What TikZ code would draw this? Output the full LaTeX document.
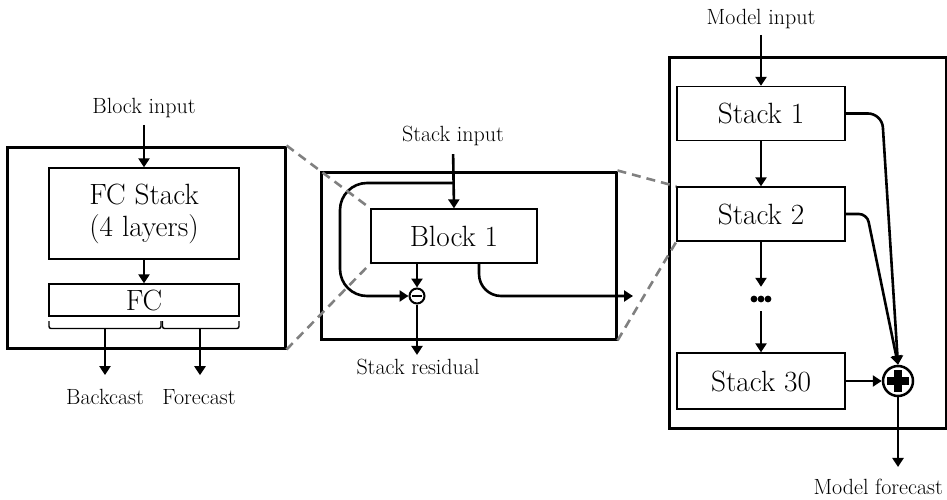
\documentclass[tikz,border=0pt]{standalone}
\usetikzlibrary{arrows.meta,calc}
\begin{document}
\begin{tikzpicture}[x=1pt,y=-1pt,
  frame/.style={draw, line width=3pt, inner sep=0pt},
  unit/.style={draw, line width=1.3pt, fill=white, inner sep=0pt,
    font=\fontsize{29.3}{32}\selectfont, align=center},
  lbl/.style={font=\fontsize{22}{26}\selectfont, inner sep=0pt},
  flow/.style={line width=2.6pt, -{Triangle[length=9pt,width=11pt]}},
  zoomline/.style={draw=black!50, line width=2.6pt, dash pattern=on 9pt off 6pt},
]
\useasboundingbox (0,0) rectangle (947,500);

% ---------- block internals (left) ----------
\node[frame, minimum width=278pt, minimum height=201pt] (blockframe) at (146,247.5) {};
\node[unit, minimum width=190pt, minimum height=91pt] (fcstack) at (144,213.5) {FC Stack\\(4 layers)};
\node[unit, minimum width=190pt, minimum height=32pt] (fc) at (144,300) {FC};
\node[lbl] (binput) at (144,108) {Block input};
\node[lbl] (backcast) at (105,397) {Backcast};
\node[lbl] (forecast) at (199,397) {Forecast};
\coordinate (bt1) at (105,329);
\coordinate (bt2) at (200,329);

% brackets splitting the FC output
\draw[line width=1.4pt, rounded corners=2pt] (49,321) |- (161,328.5) -- (161,321);
\draw[line width=1.4pt, rounded corners=2pt] (162.5,321) |- (239,328.5) -- (239,321);

\draw[flow, shorten <=7pt] (binput.south) -- (fcstack.north);
\draw[flow] (fcstack.south) -- (fc.north);
\draw[flow, shorten >=14pt] (bt1) -- (backcast.north);
\draw[flow, shorten >=14pt] (bt2) -- (bt2 |- forecast.north);

% ---------- stack internals (middle) ----------
\node[frame, minimum width=295pt, minimum height=167pt] (stackframe) at (468.5,255.5) {};
\node[unit, minimum width=166pt, minimum height=54pt] (blk) at (454,236) {Block 1};
\node[lbl] (sinput) at (453,136) {Stack input};
\node[lbl] (sresid) at (418,367) {Stack residual};
\node[circle, draw, line width=2pt, minimum size=15pt, inner sep=0pt] (minus) at (417,296) {};
\draw[line width=2.8pt] ($(minus.center)+(-5,0)$) -- ($(minus.center)+(5,0)$);
\coordinate (split) at (453,183);
\coordinate (stackout) at (633,296);

\draw[flow, shorten <=8pt] (sinput.south) -- (blk.north);
\draw[flow, rounded corners=27pt] (split) -- (340,183) -- (340,296) -- (minus.west);
\draw[flow] (blk.south -| minus) -- (minus.north);
\draw[flow, shorten >=4pt] (minus.south) -- (minus.south |- sresid.north);
\draw[flow, rounded corners=22pt] ([xshift=25pt]blk.south) -- ([xshift=25pt]blk.south |- stackout) -- (stackout);

% ---------- model (right) ----------
\node[frame, minimum width=277pt, minimum height=370pt] (modelframe) at (807.5,243) {};
\node[unit, minimum width=168pt, minimum height=54pt] (s1) at (761,113.5) {Stack 1};
\node[unit, minimum width=168pt, minimum height=54pt] (s2) at (761,214) {Stack 2};
\node[unit, minimum width=168pt, minimum height=56pt] (s30) at (761,381) {Stack 30};
\node[inner sep=0pt, minimum width=22pt, minimum height=8pt] (dots) at (761,299) {};
\foreach \dx in {-7,0,7} \fill ($(dots.center)+(\dx,0)$) circle (3.4pt);
\node[circle, draw, line width=2.5pt, minimum size=30pt, inner sep=0pt, fill=white] (plus) at (898,381) {};
\draw[line width=8pt] ($(plus.center)+(-11,0)$) -- ($(plus.center)+(11,0)$);
\draw[line width=8pt] ($(plus.center)+(0,-11)$) -- ($(plus.center)+(0,11)$);
\node[lbl] (minput) at (761,19) {Model input};
\node[lbl, anchor=east] (mforecast) at (943,487) {Model forecast};

\draw[flow, shorten <=6pt] (minput.south) -- (s1.north);
\draw[flow] (s1.south) -- (s2.north);
\draw[flow, shorten >=8pt] (s2.south) -- (dots.north);
\draw[flow, shorten <=8pt] (dots.south) -- (s30.north);
\draw[flow, rounded corners=14pt] (s1.east) -- (882,113.5) -- (plus.north);
\draw[flow, rounded corners=8pt] (s2.east) -- (867,214) -- (plus.north);
\draw[flow] (s30.east) -- (plus.west);
\draw[flow, shorten >=12pt] (plus.south) -- (plus.south |- mforecast.north);

% ---------- zoom guides ----------
\draw[zoomline] (blockframe.north east) -- (blk.north west);
\draw[zoomline] (blockframe.south east) -- (blk.south west);
\draw[zoomline] (stackframe.north east) -- (s2.north west);
\draw[zoomline] (stackframe.south east) -- (s2.south west);
\end{tikzpicture}
\end{document}
